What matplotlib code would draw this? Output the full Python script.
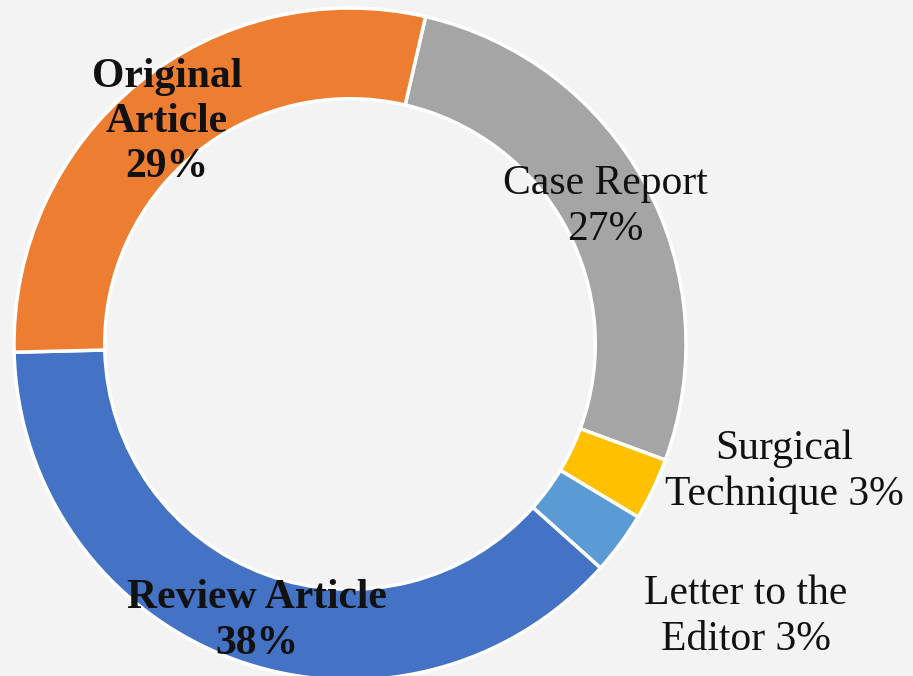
import matplotlib.pyplot as plt

# Data (clockwise from the top)
categories = ["Case Report", "Surgical Technique", "Letter to the Editor",
              "Review Article", "Original Article"]
shares = [27, 3, 3, 38, 29]
colors = ["#A5A5A5", "#FFC000", "#5B9BD5", "#4472C4", "#ED7D31"]

# Label text and where it sits (pixels, origin top-left)
label_texts = ["Case Report\n27%", "Surgical\nTechnique 3%", "Letter to the\nEditor 3%",
               "Review Article\n38%", "Original\nArticle\n29%"]
label_xy = [(605, 207), (784, 472), (746, 617), (257, 621), (167, 122)]
label_bold = [False, False, False, True, True]

W, H = 913, 676
fig = plt.figure(figsize=(W / 100, H / 100), dpi=100)
fig.patch.set_facecolor("#F3F3F4")
ax = fig.add_axes([0, 0, 1, 1])
ax.set_facecolor("#F3F3F4")

cx, cy, R = 350, H - 344, 336
ax.pie(shares, colors=colors, startangle=77, counterclock=False,
       center=(cx, cy), radius=R, frame=True,
       wedgeprops=dict(width=R * 0.27, edgecolor="white", linewidth=2.5))
ax.set_xlim(0, W)
ax.set_ylim(0, H)
ax.axis("off")

for txt, (x, y), bold in zip(label_texts, label_xy, label_bold):
    ax.text(x, H - y, txt, ha="center", va="center", fontsize=30,
            family="Liberation Serif", fontweight="bold" if bold else "normal",
            color="#111111", linespacing=1.25)

plt.savefig("out.png", dpi=100, facecolor=fig.get_facecolor())
